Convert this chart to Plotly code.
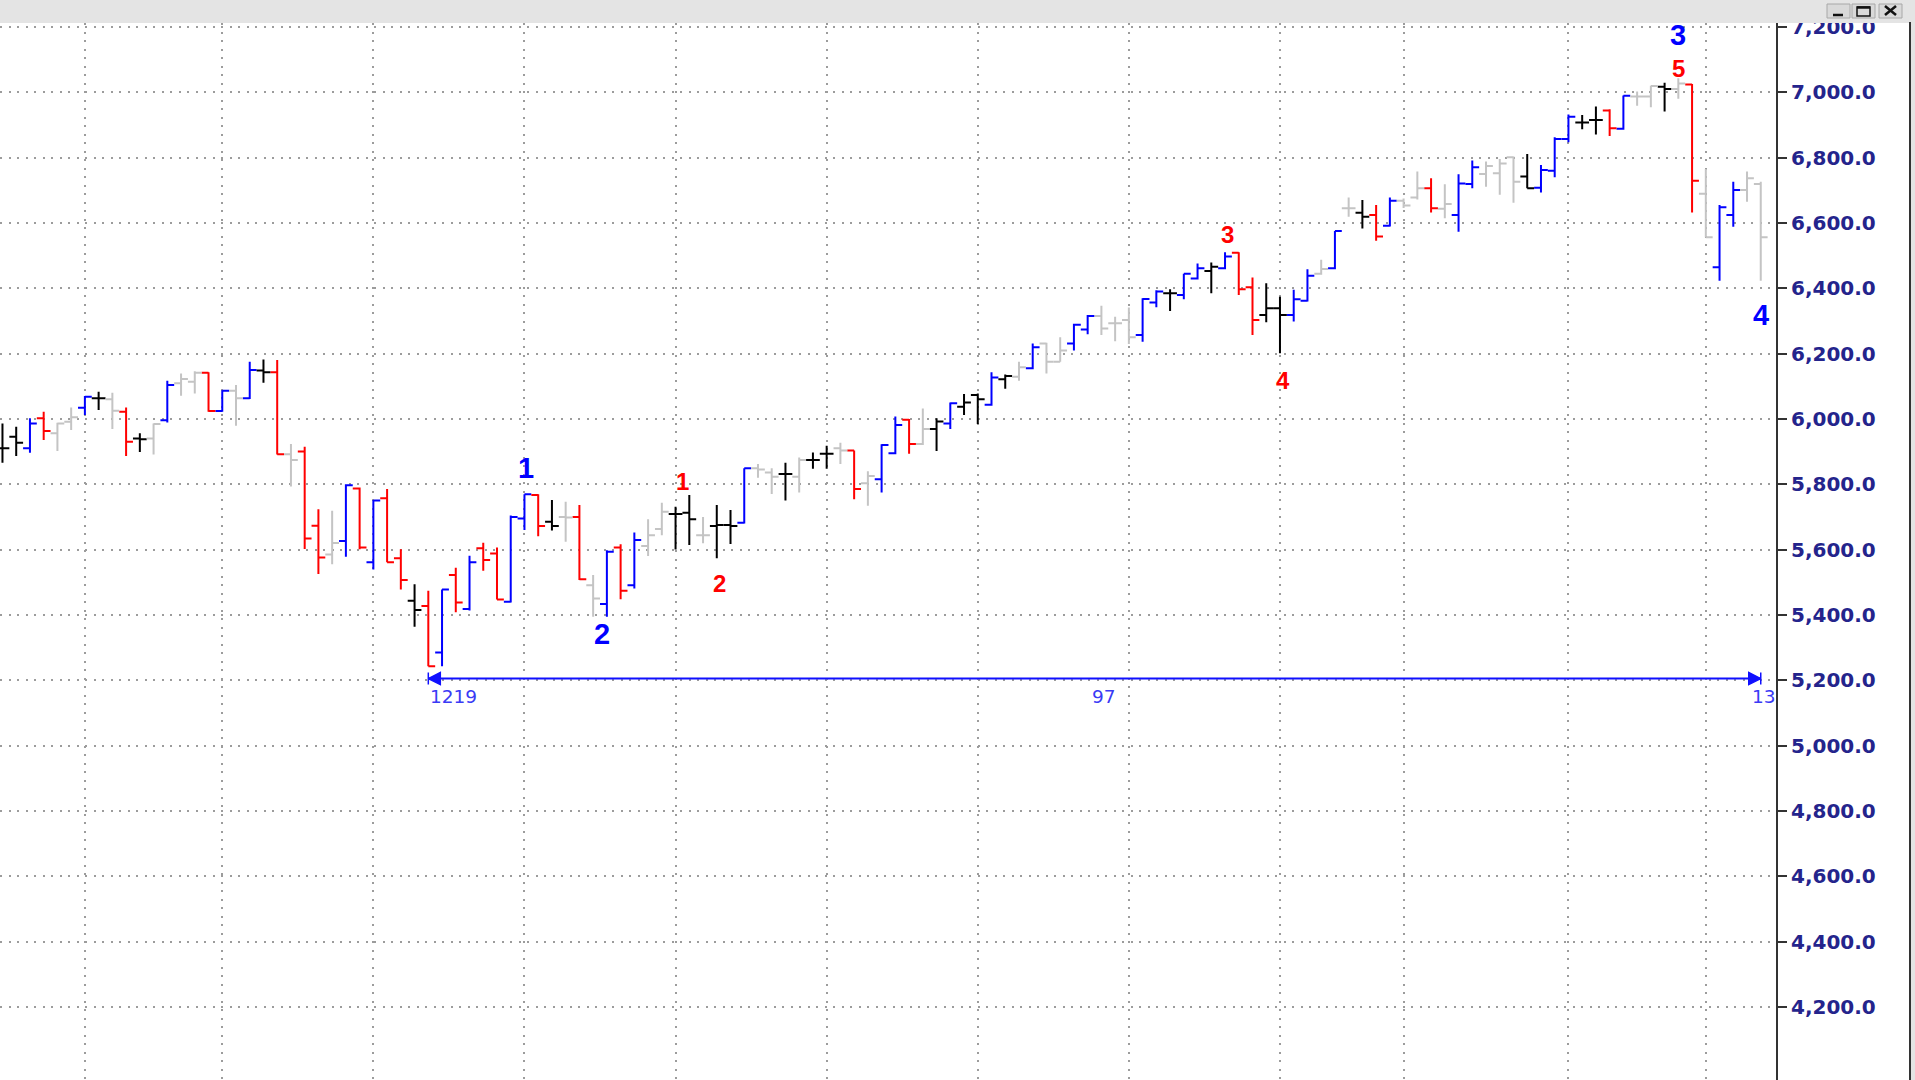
import plotly.graph_objects as go

# ---------------- data ----------------
bar_index = list(range(129))

opens = [5910, 5945, 5910, 6002, 5956, 5991, 6034, 6063, 6060, 6022,
         5940, 5940, 5996, 6109, 6114, 6141, 6024, 6086, 6063, 6148,
         6143, 5892, 5900, 5673, 5585, 5626, 5787, 5561, 5757, 5573,
         5443, 5427, 5285, 5522, 5418, 5604, 5588, 5440, 5695, 5767,
         5685, 5700, 5700, 5491, 5433, 5606, 5491, 5611, 5663, 5709,
         5713, 5644, 5672, 5675, 5682, 5849, 5836, 5831, 5823, 5874,
         5893, 5910, 5903, 5803, 5815, 5895, 5997, 5923, 5969, 5986,
         6037, 6073, 6043, 6121, 6129, 6155, 6231, 6175, 6231, 6274,
         6315, 6293, 6303, 6257, 6356, 6385, 6379, 6430, 6453, 6461,
         6509, 6403, 6318, 6339, 6318, 6362, 6444, 6461, 6645, 6631,
         6624, 6591, 6668, 6678, 6706, 6643, 6624, 6719, 6750, 6752,
         6801, 6742, 6708, 6760, 6857, 6907, 6915, 6944, 6888, 6987,
         6987, 7017, 7010, 7024, 6689, 6464, 6624, 6701, 6719]

highs = [5986, 5976, 6002, 6022, 5988, 6035, 6070, 6083, 6080, 6035,
         5956, 5986, 6117, 6139, 6146, 6143, 6088, 6104, 6175, 6182,
         6180, 5923, 5915, 5723, 5719, 5800, 5790, 5752, 5785, 5601,
         5494, 5474, 5478, 5544, 5581, 5621, 5606, 5704, 5769, 5769,
         5752, 5746, 5736, 5522, 5598, 5616, 5652, 5693, 5743, 5731,
         5767, 5700, 5736, 5721, 5849, 5862, 5849, 5866, 5882, 5897,
         5918, 5927, 5903, 5840, 5922, 6007, 6000, 6032, 6002, 6050,
         6076, 6078, 6143, 6136, 6175, 6231, 6233, 6250, 6291, 6318,
         6346, 6313, 6341, 6369, 6394, 6397, 6444, 6476, 6479, 6510,
         6510, 6433, 6415, 6374, 6395, 6458, 6487, 6575, 6678, 6670,
         6655, 6678, 6675, 6757, 6737, 6718, 6749, 6791, 6788, 6796,
         6803, 6811, 6777, 6862, 6932, 6930, 6956, 6948, 6990, 7002,
         7020, 7029, 7043, 7025, 6765, 6655, 6726, 6757, 6726]

lows = [5866, 5886, 5896, 5935, 5902, 5966, 6012, 6027, 5969, 5886,
        5899, 5891, 5989, 6071, 6078, 6022, 6022, 5979, 6061, 6111,
        5891, 5793, 5602, 5525, 5555, 5578, 5601, 5539, 5561, 5478,
        5364, 5243, 5243, 5408, 5413, 5535, 5447, 5438, 5660, 5641,
        5658, 5624, 5507, 5394, 5394, 5448, 5481, 5580, 5644, 5600,
        5614, 5619, 5573, 5617, 5680, 5820, 5770, 5750, 5775, 5847,
        5847, 5862, 5754, 5734, 5775, 5892, 5893, 5920, 5902, 5969,
        6012, 5984, 6040, 6092, 6117, 6152, 6139, 6175, 6209, 6259,
        6257, 6238, 6229, 6236, 6342, 6330, 6366, 6427, 6385, 6458,
        6379, 6257, 6296, 6201, 6298, 6359, 6441, 6458, 6619, 6583,
        6545, 6589, 6646, 6672, 6632, 6614, 6573, 6706, 6711, 6686,
        6662, 6706, 6693, 6740, 6847, 6887, 6871, 6866, 6885, 6959,
        6954, 6941, 6980, 6632, 6556, 6423, 6588, 6665, 6423]

closes = [5910, 5927, 5986, 5963, 5986, 6005, 6068, 6063, 6025, 5930,
          5938, 5984, 6104, 6122, 6141, 6024, 6086, 6063, 6150, 6143,
          5892, 5874, 5634, 5576, 5620, 5797, 5606, 5750, 5561, 5507,
          5415, 5243, 5478, 5438, 5561, 5568, 5447, 5700, 5769, 5672,
          5672, 5698, 5509, 5450, 5593, 5474, 5629, 5644, 5716, 5709,
          5693, 5644, 5675, 5672, 5849, 5845, 5823, 5831, 5874, 5874,
          5893, 5903, 5785, 5825, 5920, 5981, 5923, 5969, 5992, 6048,
          6050, 6060, 6127, 6131, 6158, 6219, 6175, 6209, 6288, 6315,
          6277, 6293, 6250, 6367, 6390, 6385, 6444, 6461, 6466, 6497,
          6397, 6303, 6339, 6318, 6366, 6438, 6459, 6575, 6645, 6619,
          6558, 6668, 6653, 6706, 6645, 6658, 6721, 6770, 6774, 6782,
          6726, 6706, 6762, 6857, 6925, 6907, 6915, 6890, 6989, 6987,
          7019, 7010, 7027, 6729, 6556, 6648, 6701, 6737, 6556]

# bar state: b = up signal, r = down signal, k = neutral, g = inactive
bar_state = list("kkbrggbkgr" "kgbggrbgbk" "rgrrgbrbrr" "krbrbrrbbr"
                 "kgrgbrbggk" "kgkkbggkgk" "kgrgbbrgkb" "kkbkgbggbb"
                 "gggbbkbbkb" "rrkkbbgbgk" "rbggrgbbgg" "gkbbbkkrbg"
                 "gkgrgbbgg")

# wave labels
wave_text = ["1", "2", "1", "2", "3", "4", "3", "5", "4"]
wave_x = [38.1, 43.65, 49.5, 52.2, 89.2, 93.2, 122.0, 122.0, 128.0]
wave_y = [5850, 5341, 5808, 5496, 6563, 6119, 7175, 7074, 6318]
wave_group = ["major", "major", "minor", "minor", "minor", "minor",
              "major", "minor", "major"]

# measuring line (start bar, end bar, level, bar count)
measure_start = 31
measure_end = 128
measure_level = 5205
measure_labels = ["1219", "97", "13"]
measure_label_x = [31.1, 80.2, 128.2]
measure_label_y = 5150

price_ticks = list(range(4200, 7201, 200))
time_grid = [6, 16, 27, 38, 49, 60, 71, 82, 93, 102, 114, 124]

# ---------------- styles ----------------
state_color = {"b": "#0000FF", "r": "#FF0000", "k": "#000000", "g": "#C4C4C4"}
group_style = {"major": ("#0000FF", 29), "minor": ("#FF0000", 24)}

fig = go.Figure()

for code, col in state_color.items():
    idx = [i for i, s in enumerate(bar_state) if s == code]
    xs = [bar_index[i] for i in idx]
    diffs = [b - a for a, b in zip(xs[:-1], xs[1:])]
    min_diff = min(diffs) if diffs else 1
    fig.add_trace(go.Ohlc(
        x=xs,
        open=[opens[i] for i in idx],
        high=[highs[i] for i in idx],
        low=[lows[i] for i in idx],
        close=[closes[i] for i in idx],
        increasing=dict(line=dict(color=col, width=2)),
        decreasing=dict(line=dict(color=col, width=2)),
        tickwidth=min(0.5, 0.5 / min_diff),
        showlegend=False,
        hoverinfo="skip",
    ))

# measuring line
mcol = "#1010FF"
fig.add_trace(go.Scatter(
    x=[measure_start, measure_end], y=[measure_level, measure_level],
    mode="lines", line=dict(color=mcol, width=2),
    showlegend=False, hoverinfo="skip"))
fig.add_trace(go.Scatter(
    x=[measure_start, measure_end], y=[measure_level, measure_level],
    mode="markers",
    marker=dict(symbol=["arrow-bar-left", "arrow-bar-right"], size=12,
                color=mcol, line=dict(color=mcol, width=1.5)),
    showlegend=False, hoverinfo="skip"))

annotations = []
for t, x, y, g in zip(wave_text, wave_x, wave_y, wave_group):
    col, size = group_style[g]
    annotations.append(dict(
        x=x, y=y, xref="x", yref="y", text="<b>%s</b>" % t, showarrow=False,
        font=dict(family="Liberation Sans, Arial", size=size, color=col),
        xanchor="center", yanchor="middle"))

for t, x, anchor in zip(measure_labels, measure_label_x, ["left", "center", "center"]):
    annotations.append(dict(
        x=x, y=measure_label_y, xref="x", yref="y", text=t, showarrow=False,
        font=dict(family="DejaVu Sans", size=18.5, color="#3A3AF5"),
        xanchor=anchor, yanchor="middle", xshift=-2 if anchor == "left" else 0))

# window chrome (paper coordinates; plot area is 1776 x 1057 px)
W, H = 1776.0, 1057.0
def px(x):
    return x / W
def py(y):
    return (1080.0 - y) / H

shapes = [
    dict(type="rect", xref="paper", yref="paper", x0=px(0), x1=px(1915),
         y0=py(23), y1=py(0), fillcolor="#E4E4E4", line=dict(width=0), layer="above"),
    dict(type="rect", xref="paper", yref="paper", x0=px(1911), x1=px(1915),
         y0=py(1080), y1=py(23), fillcolor="#E4E4E4", line=dict(width=0), layer="above"),
    dict(type="line", xref="paper", yref="paper", x0=px(1910), x1=px(1910),
         y0=py(1080), y1=py(22), line=dict(color="#333333", width=2), layer="above"),
]
for x0, x1 in [(1827, 1850), (1852, 1875), (1879, 1902)]:
    shapes.append(dict(type="rect", xref="paper", yref="paper", x0=px(x0), x1=px(x1),
                       y0=py(18), y1=py(4), fillcolor="#D9D9D9",
                       line=dict(color="#A8A8A8", width=1), layer="above"))
shapes += [
    dict(type="line", xref="paper", yref="paper", x0=px(1833), x1=px(1843),
         y0=py(15), y1=py(15), line=dict(color="#111111", width=2.5), layer="above"),
    dict(type="rect", xref="paper", yref="paper", x0=px(1857), x1=px(1870),
         y0=py(16), y1=py(7), line=dict(color="#111111", width=1.5), layer="above"),
    dict(type="line", xref="paper", yref="paper", x0=px(1857), x1=px(1870),
         y0=py(7.5), y1=py(7.5), line=dict(color="#111111", width=2.5), layer="above"),
    dict(type="line", xref="paper", yref="paper", x0=px(1885), x1=px(1896),
         y0=py(6), y1=py(15), line=dict(color="#111111", width=2.5), layer="above"),
    dict(type="line", xref="paper", yref="paper", x0=px(1885), x1=px(1896),
         y0=py(15), y1=py(6), line=dict(color="#111111", width=2.5), layer="above"),
]

grid_style = dict(showgrid=True, gridcolor="#9C9C9C", gridwidth=1.5, griddash="2px,6.5px")

fig.update_layout(
    width=1915, height=1080,
    margin=dict(l=0, r=139, t=23, b=0, autoexpand=False),
    paper_bgcolor="white", plot_bgcolor="white",
    showlegend=False,
    annotations=annotations,
    shapes=shapes,
    xaxis=dict(range=[-0.18, 129.11], tickvals=time_grid, showticklabels=False,
               ticks="", zeroline=False, showline=False,
               rangeslider=dict(visible=False), **grid_style),
    yaxis=dict(side="right", range=[3976, 7212], tickvals=price_ticks,
               tickformat=",.1f", ticks="outside", ticklen=9, tickwidth=2,
               tickcolor="#333333", showline=True, linecolor="#333333", linewidth=2,
               zeroline=False,
               tickfont=dict(family="DejaVu Sans", size=20, color="#24248C",
                             weight="bold"),
               **grid_style),
)

fig.write_html(
    "out.html",
    config={"displayModeBar": False},
    post_script="document.body.style.margin='0px';"
                "document.body.style.overflow='hidden';",
)
